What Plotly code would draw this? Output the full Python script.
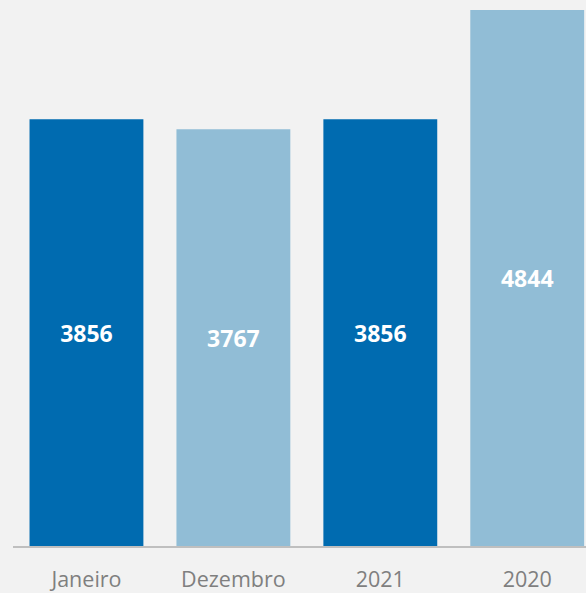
import plotly.graph_objects as go

categories = ["Janeiro", "Dezembro", "2021", "2020"]
values = [3856, 3767, 3856, 4844]
colors = ["#006BB0", "#91BDD6", "#006BB0", "#91BDD6"]

fig = go.Figure(go.Bar(
    x=categories, y=values,
    marker=dict(color=colors, line=dict(width=0)),
    width=0.775,
    text=[str(v) for v in values],
    textposition="inside",
    insidetextanchor="middle",
    textfont=dict(family="Open Sans", size=23, color="white", weight="bold"),
    cliponaxis=False,
))

fig.update_layout(
    width=586, height=593,
    margin=dict(l=12.5, r=0, t=10, b=47, autoexpand=False),
    paper_bgcolor="#F2F2F2", plot_bgcolor="#F2F2F2",
    showlegend=False,
    uniformtext=dict(mode=False),
    xaxis=dict(
        range=[-0.5, 3.4], showgrid=False, zeroline=False, automargin=False,
        showline=True, linecolor="#BFBFBF", linewidth=2,
        ticks="", tickfont=dict(family="Open Sans", size=21.5, color="#7F7F7F"),
        ticklabelstandoff=13,
    ),
    yaxis=dict(range=[0, 4844], visible=False, showgrid=False, zeroline=False, automargin=False),
)

fig.write_html(
    "out.html",
    config={"displayModeBar": False},
    post_script="document.body.style.margin='0';document.body.style.padding='0';document.body.style.overflow='hidden';",
)
